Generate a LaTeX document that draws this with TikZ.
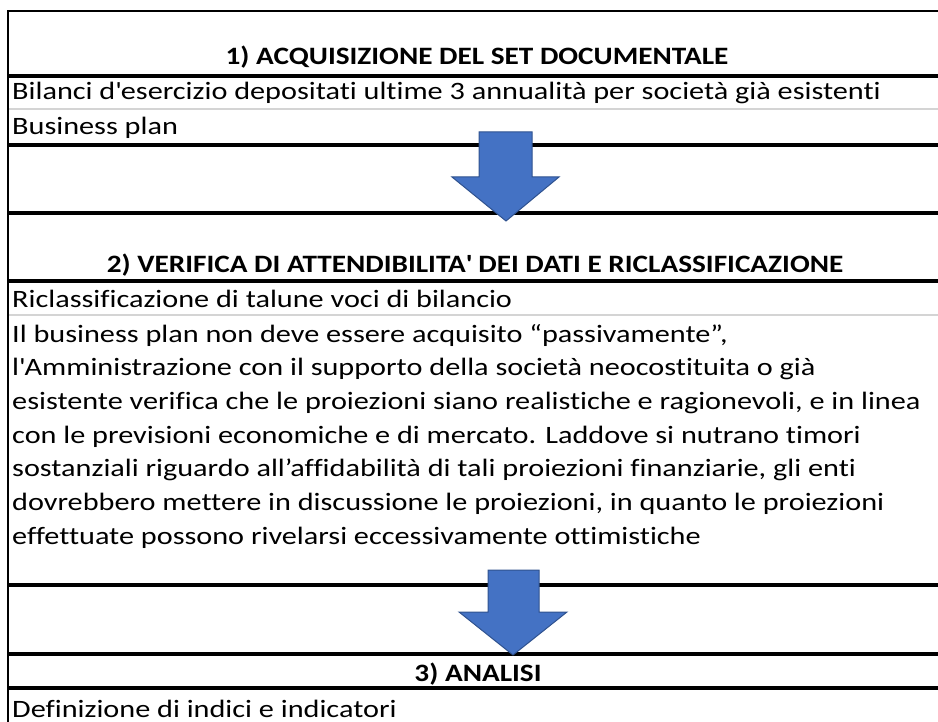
\documentclass[tikz,border=0pt]{standalone}
\usepackage{fontspec}
\setmainfont{Carlito}[Ligatures=NoCommon,FakeStretch=1.21,BoldFeatures={FakeStretch=1.17}]
\definecolor{arrowblue}{HTML}{4472C4}
\definecolor{arrowedge}{HTML}{2F528F}

\begin{document}
\begin{tikzpicture}[x=1pt,y=-1pt]
% Styles for the cells, the rules and the block arrows
\tikzset{
cell text/.style={anchor=base west,inner sep=0,font=\fontsize{25}{30}\selectfont},
head text/.style={anchor=base,inner sep=0,font=\fontsize{25}{30}\selectfont\bfseries},
thick rule/.style={line width=3.3pt},
grey rule/.style={line width=2pt,draw=black!17},
block arrow/.style={fill=arrowblue,draw=arrowedge,line width=1pt,line join=miter}
}
\useasboundingbox (0,0) rectangle (938,722);

% The frame and the row rules
\draw[line width=1.8pt] (938,11) -- (8,11) -- (8,722);
\foreach \y in {76,145,213,281,585,654,688}
\draw[thick rule] (8,\y) -- (938,\y);
\foreach \y in {109.5,315.5}
\draw[grey rule] (9,\y) -- (938,\y);

% Step 1
\node(head1)[head text] at (477,65) {1) ACQUISIZIONE DEL SET DOCUMENTALE};
\node(doc1)[cell text] at (12,100) {Bilanci d\textquotesingle esercizio depositati ultime 3 annualità per società già esistenti};
\node(doc2)[cell text] at (12,135) {Business plan};

% Step 2
\node(head2)[head text] at (475,273) {2) VERIFICA DI ATTENDIBILITA\textquotesingle{} DEI DATI E RICLASSIFICAZIONE};
\node(check1)[cell text] at (12,308) {Riclassificazione di talune voci di bilancio};
\foreach \t [count=\i] in {
{Il business plan non deve essere acquisito “passivamente”,},
{l\textquotesingle Amministrazione con il supporto della società neocostituita o già},
{esistente verifica che le proiezioni siano realistiche e ragionevoli, e in linea},
{con le previsioni economiche e di mercato. Laddove si nutrano timori},
{sostanziali riguardo all’affidabilità di tali proiezioni finanziarie, gli enti},
{dovrebbero mettere in discussione le proiezioni, in quanto le proiezioni},
{effettuate possono rivelarsi eccessivamente ottimistiche}}
\node(plan\i)[cell text] at (12,{342+33.7*(\i-1)}) {\t};

% Step 3
\node(head3)[head text] at (478,681) {3) ANALISI};
\node(index1)[cell text] at (12,717) {Definizione di indici e indicatori};

% Block arrows between the steps
\draw[block arrow] (479,132) -- (532,132) -- (532,177) -- (559,177) -- (506,221)
-- (452,177) -- (479,177) -- cycle;
\draw[block arrow] (488,570) -- (539,570) -- (539,612) -- (567,612) -- (513,655)
-- (459,612) -- (488,612) -- cycle;
\end{tikzpicture}
\end{document}
